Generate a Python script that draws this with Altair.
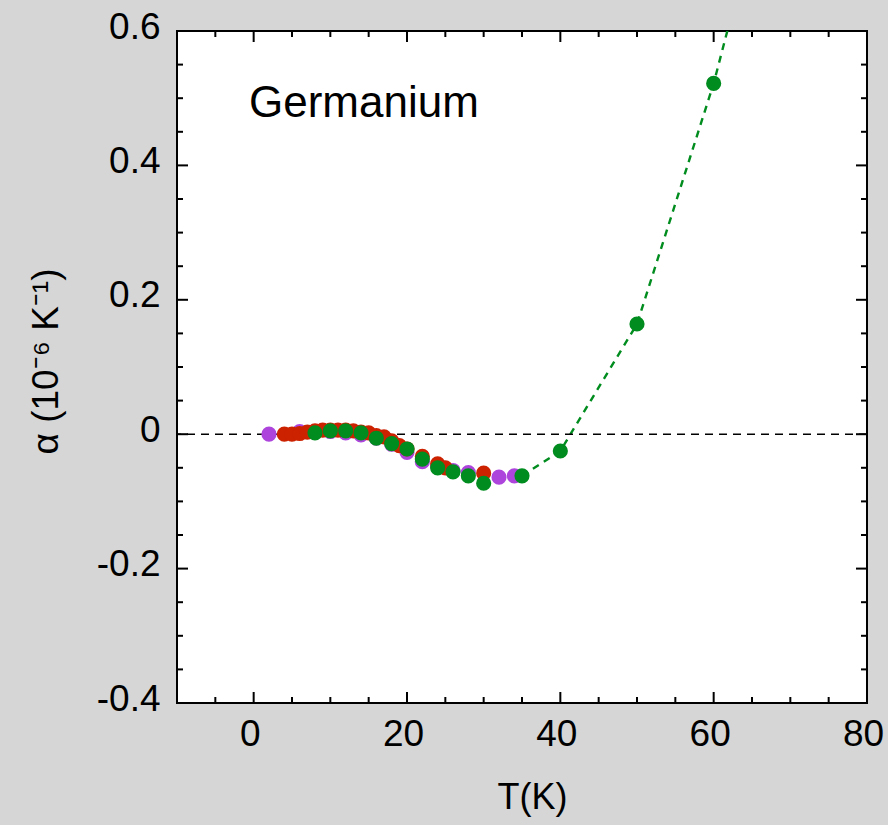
import altair as alt
import pandas as pd

# ---- data ----
purple_T = [2, 6, 8, 10, 12, 14, 16, 18, 20, 22, 24, 26, 28, 32, 34]
purple_a = [0.0, 0.004, 0.004, 0.004, 0.002, -0.001, -0.006, -0.015, -0.027,
            -0.041, -0.048, -0.054, -0.057, -0.064, -0.062]

red_T = [4, 5, 6, 7, 8, 9, 10, 11, 12, 13, 14, 15, 16, 17, 18, 19, 20, 22, 24, 25, 30]
red_a = [0.0, 0.0, 0.001, 0.003, 0.005, 0.006, 0.006, 0.006, 0.006, 0.005, 0.003,
         0.002, -0.002, -0.004, -0.01, -0.017, -0.022, -0.033, -0.044, -0.05, -0.058]

green_T = [8, 10, 12, 14, 16, 18, 20, 22, 24, 26, 28, 30, 35, 40, 50, 60, 70]
green_a = [0.002, 0.005, 0.005, 0.002, -0.006, -0.014, -0.022, -0.037, -0.05,
           -0.056, -0.062, -0.073, -0.062, -0.025, 0.164, 0.522, 0.96]

x_labels = [0, 20, 40, 60, 80]
y_labels = [-0.4, -0.2, 0, 0.2, 0.4, 0.6]
x_tick_major = [0, 20, 40, 60]
x_tick_minor = [-5, 5, 10, 15, 25, 30, 35, 45, 50, 55, 65, 70, 75]
y_tick_major = [-0.2, 0, 0.2, 0.4]
y_tick_minor = [-0.35, -0.3, -0.25, -0.15, -0.1, -0.05, 0.05, 0.1, 0.15,
                0.25, 0.3, 0.35, 0.45, 0.5, 0.55]

label_text = "Germanium"
x_title = "T(K)"
y_title = "α (10⁻⁶ K⁻¹)"

PURPLE = "#ad45dc"
RED = "#cc2200"
GREEN = "#008c1e"
FONT = "Liberation Sans"

W, H = 690, 672
MAJ, MIN = 11, 6

x_scale = alt.Scale(domain=[-10, 80], nice=False, zero=False)
y_scale = alt.Scale(domain=[-0.4, 0.6], nice=False, zero=False)

df_p = pd.DataFrame({"T": purple_T, "a": purple_a})
df_r = pd.DataFrame({"T": red_T, "a": red_a})
df_g = pd.DataFrame({"T": green_T, "a": green_a})
df_gl = df_g[df_g["T"] >= 35]

x_axis = alt.Axis(values=x_labels, ticks=False, domain=False, grid=False,
                  labelFontSize=37, labelPadding=13, labelFlush=False, labelOffset=-4,
                  labelColor="black", labelFont=FONT,
                  title=x_title, titleFontSize=36, titleFont=FONT, titleFontWeight="normal",
                  titleColor="black", titleX=355, titleY=105, titleBaseline="alphabetic",
                  titleAlign="center")
y_axis = alt.Axis(values=y_labels, ticks=False, domain=False, grid=False,
                  labelFontSize=37, labelPadding=17, labelFlush=False, labelOffset=-4,
                  labelColor="black", labelFont=FONT,
                  labelExpr="datum.value == 0 ? '0' : (datum.value < 0 ? '-' + format(-datum.value, '.1f') : format(datum.value, '.1f'))",
                  title=y_title, titleFontSize=37, titleFont=FONT, titleFontWeight="normal",
                  titleColor="black", titleX=-120, titleY=330, titleBaseline="alphabetic",
                  titleAlign="center", titleAngle=-90)

x_enc = alt.X("T:Q", scale=x_scale, axis=x_axis)
y_enc = alt.Y("a:Q", scale=y_scale, axis=y_axis)

zero_line = alt.Chart(pd.DataFrame({"a": [0]})).mark_rule(
    color="black", strokeDash=[8, 6], strokeWidth=1.6
).encode(y=y_enc)

green_line = alt.Chart(df_gl).mark_line(
    color=GREEN, strokeDash=[7, 6], strokeWidth=2.4, clip=True
).encode(x=x_enc, y=y_enc)


def pts(df, color):
    return alt.Chart(df).mark_circle(color=color, size=230, opacity=1, clip=True).encode(
        x=x_enc, y=y_enc)


def xticks(vals, y0, y1):
    return alt.Chart(pd.DataFrame({"T": vals})).mark_rule(color="black", strokeWidth=2).encode(
        x=x_enc, y=alt.value(y0), y2=alt.value(y1))


def yticks(vals, x0, x1):
    return alt.Chart(pd.DataFrame({"a": vals})).mark_rule(color="black", strokeWidth=2).encode(
        y=y_enc, x=alt.value(x0), x2=alt.value(x1))


ticks = [
    xticks(x_tick_major, H, H - MAJ), xticks(x_tick_minor, H, H - MIN),
    xticks(x_tick_major, 0, MAJ), xticks(x_tick_minor, 0, MIN),
    yticks(y_tick_major, 0, MAJ), yticks(y_tick_minor, 0, MIN),
    yticks(y_tick_major, W, W - MAJ), yticks(y_tick_minor, W, W - MIN),
]

label = alt.Chart(pd.DataFrame({"t": [label_text]})).mark_text(
    align="left", baseline="alphabetic", fontSize=44, font=FONT, color="black"
).encode(x=alt.value(72), y=alt.value(86), text="t:N")

chart = alt.layer(
    green_line, zero_line, pts(df_p, PURPLE), pts(df_r, RED), pts(df_g, GREEN), *ticks, label
).properties(
    width=W, height=H,
    autosize=alt.AutoSizeParams(type="none"),
    padding={"left": 177, "top": 31, "right": 21, "bottom": 122},
    background="#d6d6d6",
).configure_view(
    fill="white", stroke="black", strokeWidth=2
)

chart.save("out.html", embed_options={"renderer": "svg", "actions": False})
